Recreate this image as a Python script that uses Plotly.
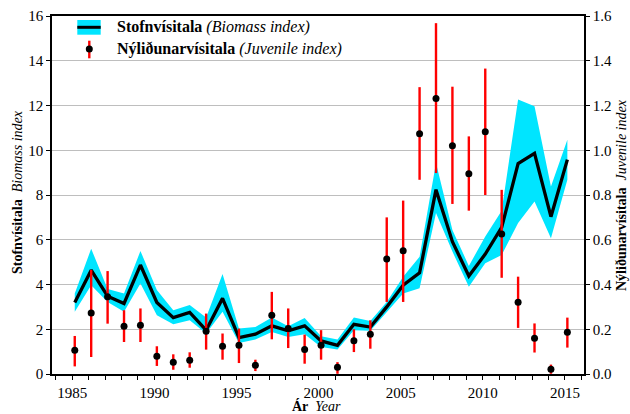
import plotly.graph_objects as go

# ---------------- data ----------------
years = list(range(1985, 2016))

biomass = [3.20, 4.64, 3.48, 3.15, 4.87, 3.20, 2.52, 2.75, 1.96, 3.38,
           1.63, 1.78, 2.15, 1.93, 2.15, 1.48, 1.28, 2.22, 2.10, 3.00,
           3.97, 4.52, 8.24, 5.91, 4.38, 5.36, 6.55, 9.40, 9.86, 7.03, 9.58]
biomass_upper = [3.60, 5.60, 3.80, 3.60, 5.50, 3.75, 2.85, 3.08, 2.52, 4.47,
                 2.03, 2.10, 2.52, 2.13, 2.50, 1.69, 1.54, 2.52, 2.37, 3.22,
                 4.35, 5.24, 9.43, 6.44, 4.83, 6.14, 7.30, 12.27, 11.97, 8.38, 10.47]
biomass_lower = [2.78, 3.97, 3.22, 2.78, 4.05, 2.63, 2.22, 2.40, 1.81, 2.78,
                 1.39, 1.54, 1.88, 1.65, 1.78, 1.21, 1.09, 1.96, 1.93, 2.78,
                 3.60, 3.83, 7.19, 5.47, 3.90, 4.95, 5.32, 6.75, 7.71, 6.07, 8.68]

juvenile = [0.106, 0.273, 0.345, 0.213, 0.218, 0.079, 0.052, 0.061, 0.191, 0.124,
            0.128, 0.039, 0.263, 0.203, 0.110, 0.128, 0.030, 0.149, 0.178, 0.514,
            0.551, 1.074, 1.231, 1.020, 0.895, 1.083, 0.626, 0.321, 0.160, 0.021, 0.187]
juvenile_upper = [0.170, 0.465, 0.460, 0.285, 0.293, 0.124, 0.088, 0.097, 0.270, 0.181,
                  0.203, 0.064, 0.367, 0.293, 0.176, 0.196, 0.053, 0.200, 0.240, 0.700,
                  0.775, 1.282, 1.568, 1.284, 1.062, 1.365, 0.823, 0.435, 0.226, 0.042, 0.252]
juvenile_lower = [0.034, 0.076, 0.225, 0.143, 0.143, 0.036, 0.019, 0.028, 0.109, 0.064,
                  0.049, 0.013, 0.155, 0.116, 0.046, 0.064, 0.001, 0.098, 0.113, 0.322,
                  0.322, 0.868, 0.898, 0.760, 0.730, 0.800, 0.430, 0.206, 0.096, 0.001, 0.118]

left_ticks = [0, 2, 4, 6, 8, 10, 12, 14, 16]
right_ticks = [0.0, 0.2, 0.4, 0.6, 0.8, 1.0, 1.2, 1.4, 1.6]
x_ticks = [1985, 1990, 1995, 2000, 2005, 2010, 2015]

# ---------------- style ----------------
FONT = "Liberation Serif, 'Times New Roman', Times, 'DejaVu Serif', serif"
CYAN = "#00E5FF"
RED = "#FF0000"
W, H = 630, 414
L, R, T, B = 52, 46, 16, 40
PW, PH = W - L - R, H - T - B

# survey taken early in year: marks slightly right of the year tick
xpos = [y + 0.15 for y in years]

err_plus = [u - m for u, m in zip(juvenile_upper, juvenile)]
err_minus = [m - l for m, l in zip(juvenile, juvenile_lower)]

fig = go.Figure()
fig.add_trace(go.Scatter(x=xpos, y=biomass_lower, mode="lines",
                         line=dict(width=0, color=CYAN), showlegend=False,
                         hoverinfo="skip"))
fig.add_trace(go.Scatter(x=xpos, y=biomass_upper, mode="lines", fill="tonexty",
                         fillcolor=CYAN, line=dict(width=0, color=CYAN),
                         showlegend=False, hoverinfo="skip"))
fig.add_trace(go.Scatter(x=xpos, y=biomass, mode="lines",
                         line=dict(width=3.3, color="black"), showlegend=False))
fig.add_trace(go.Scatter(x=xpos, y=juvenile, mode="markers", yaxis="y2",
                         marker=dict(size=7, color="black"),
                         error_y=dict(type="data", symmetric=False, array=err_plus,
                                      arrayminus=err_minus, color=RED,
                                      thickness=2.4, width=0),
                         showlegend=False))


def px(x):
    return (x - L) / PW


def py(y):
    return (H - B - y) / PH


shapes = [
    dict(type="rect", xref="paper", yref="paper", x0=px(77.3), x1=px(100.7),
         y0=py(34.7), y1=py(20), fillcolor=CYAN, line=dict(width=0)),
    dict(type="line", xref="paper", yref="paper", x0=px(77.3), x1=px(100.7),
         y0=py(27.3), y1=py(27.3), line=dict(color="black", width=3)),
    dict(type="line", xref="paper", yref="paper", x0=px(89.3), x1=px(89.3),
         y0=py(58.3), y1=py(40.7), line=dict(color=RED, width=2.4)),
    dict(type="circle", xref="paper", yref="paper", x0=px(85.8), x1=px(92.8),
         y0=py(52.5), y1=py(45.5), fillcolor="black", line=dict(width=0)),
]

annotations = [
    dict(xref="paper", yref="paper", x=px(115), y=py(27), xanchor="left",
         yanchor="middle", showarrow=False,
         text="<b>Stofnvísitala</b> <i>(Biomass index)</i>",
         font=dict(family=FONT, size=16, color="black")),
    dict(xref="paper", yref="paper", x=px(115), y=py(49), xanchor="left",
         yanchor="middle", showarrow=False,
         text="<b>Nýliðunarvísitala</b> <i>(Juvenile index)</i>",
         font=dict(family=FONT, size=16, color="black")),
    dict(xref="paper", yref="paper", x=px(17), y=py(192), xanchor="center",
         yanchor="middle", showarrow=False, textangle=-90,
         text="<b>Stofnvísitala</b>  <i>Biomass index</i>",
         font=dict(family=FONT, size=14, color="black")),
    dict(xref="paper", yref="paper", x=px(621), y=py(195), xanchor="center",
         yanchor="middle", showarrow=False, textangle=-90,
         text="<b>Nýliðunarvísitala</b>  <i>Juvenile index</i>",
         font=dict(family=FONT, size=14, color="black")),
    dict(xref="paper", yref="paper", x=px(316), y=py(406), xanchor="center",
         yanchor="middle", showarrow=False,
         text="<b>Ár</b>  <i>Year</i>",
         font=dict(family=FONT, size=14, color="black")),
]

# x range so that ticks at 1985 / 2015 land where the reference puts them
f0 = (72.3 - L) / PW
f1 = (564.9 - L) / PW
span = 30 / (f1 - f0)
x0 = 1985 - f0 * span
x1 = x0 + span

axis_common = dict(ticks="outside", ticklen=4, tickwidth=1.2, tickcolor="black",
                   showline=True, linecolor="black", linewidth=1.5,
                   zeroline=False, automargin=False,
                   tickfont=dict(family=FONT, size=15, color="black"))

fig.update_layout(
    template="none",
    width=W, height=H,
    margin=dict(l=L, r=R, t=T, b=B, pad=0, autoexpand=False),
    paper_bgcolor="white", plot_bgcolor="white",
    font=dict(family=FONT, size=15, color="black"),
    showlegend=False,
    shapes=shapes,
    annotations=annotations,
    xaxis=dict(range=[x0, x1], tickvals=x_ticks, mirror=True, showgrid=False,
               minor=dict(dtick=1, tick0=1985, ticks="outside", ticklen=4,
                          tickwidth=1.2, tickcolor="black", showgrid=False),
               **axis_common),
    yaxis=dict(range=[0, 16], tickvals=left_ticks, showgrid=True,
               gridcolor="#BEBEBE", gridwidth=1.4, **axis_common),
    yaxis2=dict(range=[0, 1.6], tickvals=right_ticks, tickformat=".1f",
                overlaying="y", side="right", showgrid=False, **axis_common),
)

fig.write_html("out.html", config={"displayModeBar": False},
               post_script="document.body.style.margin='0';document.body.style.padding='0';")
